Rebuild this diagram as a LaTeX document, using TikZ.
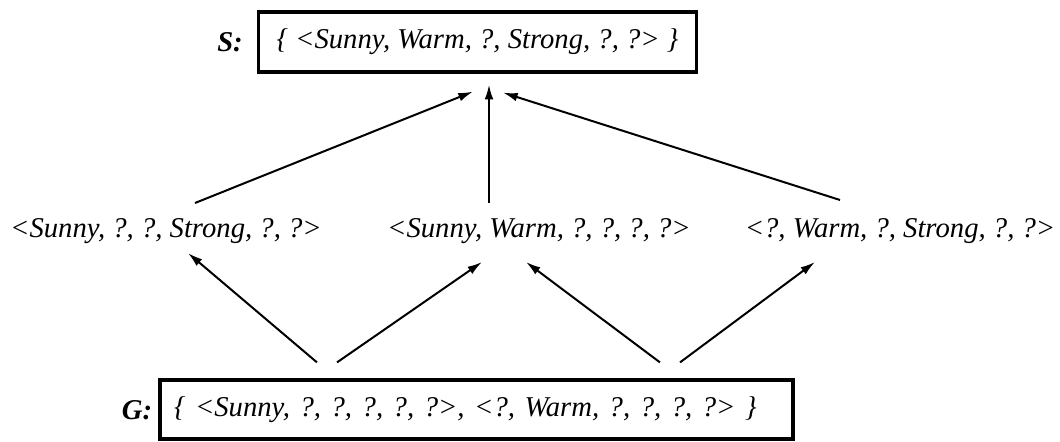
\documentclass[tikz,border=0pt]{standalone}
\usepackage{fontspec}
\setmainfont{Liberation Serif}
\usetikzlibrary{arrows.meta,calc}
\begin{document}
\begin{tikzpicture}[x=0.75pt,y=-0.75pt,
  lbl/.style={font=\fontsize{21.5}{26}\selectfont\itshape},
  tag/.style={font=\fontsize{21.5}{26}\selectfont\bfseries\itshape},
  setbox/.style={draw, line width=2.4pt, inner sep=0pt},
  arr/.style={line width=1.5pt, -{Latex[length=11pt,width=6.5pt]}}]
\useasboundingbox (0,0) rectangle (1060,442);
% top set
\node[tag] (Sl) at (230,42) {S:};
\node[setbox, lbl, minimum width=329pt, minimum height=45pt] (S) at (477.5,42)
  {\{ <Sunny, Warm, ?, Strong, ?, ?> \}};
% middle hypotheses
\node[lbl, anchor=base] (l) at (166,238) {<Sunny, ?, ?, Strong, ?, ?>};
\node[lbl, anchor=base] (m) at (539,238) {<Sunny, Warm, ?, ?, ?, ?>};
\node[lbl, anchor=base] (r) at (900,238) {<?, Warm, ?, Strong, ?, ?>};
% bottom set
\node[tag] (Gl) at (137,410) {G:};
\node[setbox, lbl, minimum width=474.75pt, minimum height=44.25pt,
      text width=453.75pt, inner xsep=10.5pt, align=left] (G) at (476.5,409.5)
  {\{ <Sunny, ?, ?, ?, ?, ?>, <?, Warm, ?, ?, ?, ?> \}};
% arrows to S
\draw[arr] ($(l.base)+(29,-35)$) -- ($(S.south)+(-4.5,18)$);
\draw[arr] ($(m.base)+(-50,-35)$) -- ($(S.south)+(11.5,11)$);
\draw[arr] ($(r.base)+(-60,-38)$) -- ($(S.south)+(25.5,19)$);
% arrows from G
\draw[arr] ($(G.north)+(-159.5,-16)$) -- ($(l.base)+(22,15)$);
\draw[arr] ($(G.north)+(-139.5,-16)$) -- ($(m.base)+(-57,24)$);
\draw[arr] ($(G.north)+(183.5,-16)$) -- ($(m.base)+(-13,24)$);
\draw[arr] ($(G.north)+(203.5,-16)$) -- ($(r.base)+(-85,24)$);
\end{tikzpicture}
\end{document}
